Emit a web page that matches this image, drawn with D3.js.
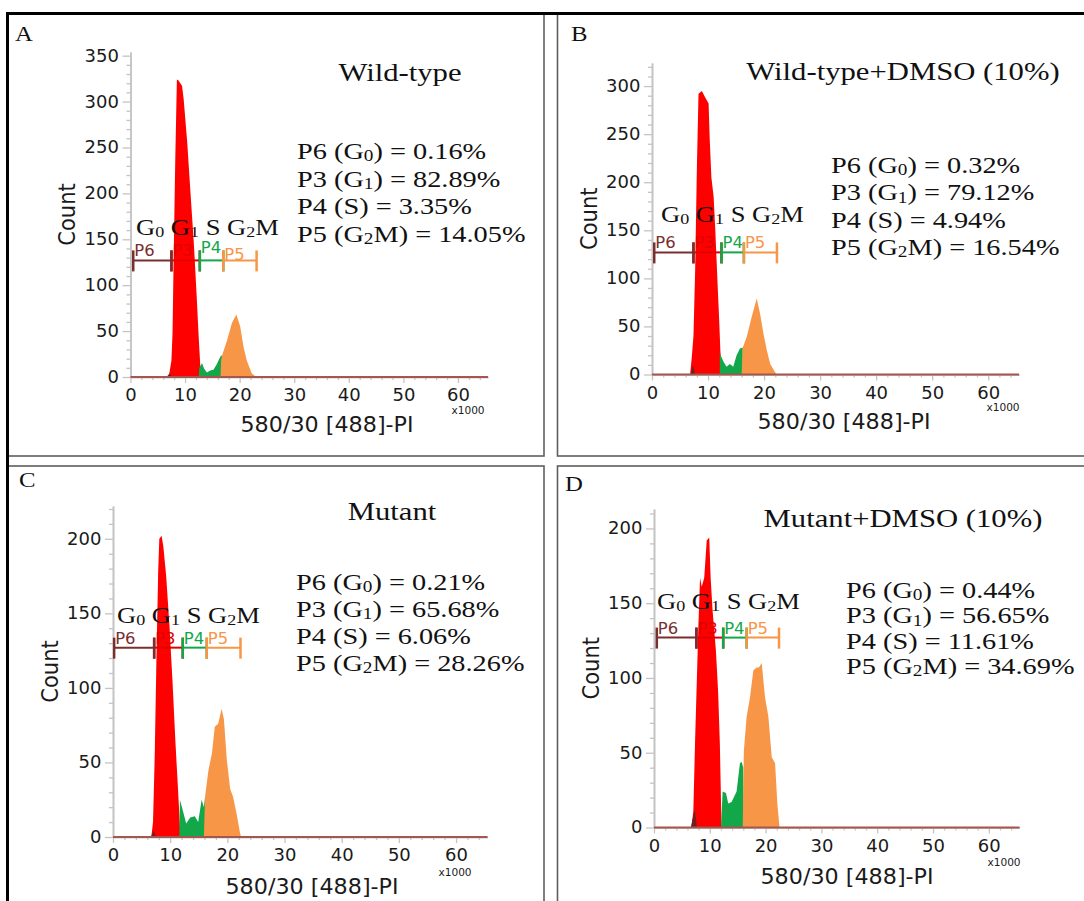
<!DOCTYPE html>
<html>
<head>
<meta charset="utf-8">
<script src="https://cdn.jsdelivr.net/npm/d3@7"></script>
<style>
  body { margin: 0; background: #fff; }
  svg { display: block; }
  text { white-space: pre; }
</style>
</head>
<body>
<script>
'use strict';

(function() {

  // ---- data ----

  // shared x axis, PI signal (x1000)
  const xMax = 65.5;
  const xTicks = [0, 10, 20, 30, 40, 50, 60];

  const panelIds = ["A", "B", "C", "D"];
  const titles = ["Wild-type", "Wild-type+DMSO (10%)", "Mutant", "Mutant+DMSO (10%)"];
  const gateNames = ["P6", "P3", "P4", "P5"];

  // percentages for P6 (G0), P3 (G1), P4 (S), P5 (G2M)
  const pctA = ["0.16", "82.89", "3.35", "14.05"];
  const pctB = ["0.32", "79.12", "4.94", "16.54"];
  const pctC = ["0.21", "65.68", "6.06", "28.26"];
  const pctD = ["0.44", "56.65", "11.61", "34.69"];

  const yTicksA = [0, 50, 100, 150, 200, 250, 300, 350];
  const yTicksB = [0, 50, 100, 150, 200, 250, 300];
  const yTicksC = [0, 50, 100, 150, 200];
  const yTicksD = [0, 50, 100, 150, 200];
  const yMaxA = 354;
  const yMaxB = 324;
  const yMaxC = 222;
  const yMaxD = 213;

  // gate bracket edges: P6 | P3 | P4 | P5 (x1000)
  const gatesA = [0.5, 7.5, 12.7, 17.0, 23.1];
  const gatesB = [0.4, 7.4, 12.4, 16.4, 22.3];
  const gatesC = [0.2, 7.2, 12.2, 16.4, 22.3];
  const gatesD = [0.5, 7.6, 12.4, 16.6, 22.4];
  const bracketCount = 127;

  // histogram outlines [x1000, count] per gated population
  const histA_G1 = [[7.0,0],[7.5,18],[7.7,48],[7.9,127],[8.2,236],[8.5,324],[8.8,323],[9.45,317],[9.75,302],[10.4,255],[11.0,200],[11.6,146],[12.1,91],[12.5,43],[12.9,0]];
  const histA_S = [[12.5,0],[12.6,10],[13.1,15],[13.5,9],[14.0,5],[14.6,7],[15.2,8],[15.8,14],[16.45,22],[16.8,24],[16.8,0]];
  const histA_G2M = [[16.5,0],[16.6,18],[16.8,24],[17.7,40],[18.6,59],[19.4,68],[20.1,55],[20.7,33],[21.3,18],[22.2,4],[23.0,0]];
  const histA_G0 = [[6.6,0],[7.2,4],[7.6,0]];

  const histB_G1 = [[6.8,0],[7.1,18],[7.4,40],[7.7,108],[8.0,212],[8.3,292],[8.9,295],[9.5,288],[10.1,282],[10.3,245],[10.6,205],[11.0,185],[11.3,150],[11.7,95],[12.0,55],[12.2,25],[12.5,0]];
  const histB_S = [[12.1,0],[12.1,22],[12.7,14],[13.3,8],[13.9,11],[14.5,8],[15.1,20],[15.7,27],[16.2,28],[16.2,0]];
  const histB_G2M = [[16.0,0],[16.2,28],[16.9,39],[17.8,60],[18.7,79],[19.3,63],[19.9,42],[20.5,25],[21.1,11],[22.0,2],[22.3,0]];
  const histB_G0 = [[6.9,0],[7.3,10],[7.7,0]];

  const histC_G1 = [[6.7,0],[7.0,10],[7.3,55],[7.6,120],[7.9,178],[8.1,200],[8.5,202],[8.8,195],[9.3,175],[9.9,140],[10.4,105],[10.9,65],[11.4,30],[11.8,0]];
  const histC_S = [[11.6,0],[11.7,25],[12.2,18],[12.8,9],[13.5,13],[14.3,14],[14.9,10],[15.5,25],[15.9,20],[16.1,27],[16.1,0]];
  const histC_G2M = [[15.9,0],[16.1,27],[16.7,45],[17.3,56],[17.8,74],[18.4,76],[19.0,86],[19.4,79],[19.9,52],[20.5,32],[21.0,27],[21.6,16],[22.2,3],[22.4,0]];
  const histC_G0 = [[6.6,0],[7.1,4],[7.5,0]];

  const histD_G1 = [[6.7,0],[7.05,11],[7.35,56],[7.95,134],[8.25,167],[8.55,161],[9.0,167],[9.45,192],[9.9,194],[10.15,167],[10.5,145],[11.1,118],[11.5,90],[11.8,56],[12.1,0]];
  const histD_S = [[12.0,0],[12.3,24],[12.9,23],[13.3,16],[13.9,17],[14.8,24],[15.4,43],[15.7,44],[16.0,40],[16.1,0]];
  const histD_G2M = [[15.9,0],[16.1,51],[16.6,74],[17.2,87],[17.8,105],[18.4,107],[18.8,107],[19.3,110],[19.9,87],[20.5,74],[21.1,47],[21.7,43],[22.1,16],[22.5,0]];
  const histD_G0 = [[6.6,0],[7.3,12],[7.7,0]];

  // ---- layout (page pixels) ----
  const layoutA = {x0: 130.5, x1: 488, y0: 377, y1: 52, letter: [15, 41], title: [400, 81],
    stats: [297, 159], statGap: 27.5, phases: [136, 235], xLabel: [327, 432], x1000: [468, 414],
    labelLift: [4, 4, 7, 0]};
  const layoutB = {x0: 652, x1: 1019, y0: 374.5, y1: 63, letter: [571, 41], title: [903, 80],
    stats: [831, 173], statGap: 27.3, phases: [661, 222], xLabel: [844, 429], x1000: [1003, 411],
    labelLift: [4, 4, 4, 4]};
  const layoutC = {x0: 113, x1: 487.5, y0: 837, y1: 506, letter: [19, 487], title: [392, 520],
    stats: [296, 590], statGap: 27, phases: [117, 623], xLabel: [312, 894], x1000: [455, 876],
    labelLift: [4, 4, 4, 4]};
  const layoutD = {x0: 654, x1: 1019.5, y0: 827.5, y1: 509, letter: [565, 491], title: [903, 527],
    stats: [846, 598], statGap: 25.3, phases: [657, 609], xLabel: [847, 884], x1000: [1004, 866],
    labelLift: [4, 4, 4, 4]};

  const serif = '"Liberation Serif", "Times New Roman", serif';
  const sans = '"DejaVu Sans", Verdana, sans-serif';
  const stretch = 1.18;
  const sansStretch = 1.06;

  const fills = ["#ff0000", "#12a84a", "#f79646", "#6b2222"];
  const gateColors = ["#7a2f2f", "#e00000", "#12a84a", "#f79646"];

  const phaseParts = [
    [{t: "G"}, {t: "0", sub: true}],
    [{t: "G"}, {t: "1", sub: true}],
    [{t: "S"}],
    [{t: "G"}, {t: "2", sub: true}, {t: "M"}]
  ];

  window.onload = function() {
    let svg = d3.select('body')
      .append('svg')
      .attr('width', 1084)
      .attr('height', 901);

    drawFrames(svg);

    let panels = [
      {pct: pctA, yTicks: yTicksA, yMax: yMaxA, gates: gatesA, hist: [histA_G1, histA_S, histA_G2M, histA_G0], layout: layoutA},
      {pct: pctB, yTicks: yTicksB, yMax: yMaxB, gates: gatesB, hist: [histB_G1, histB_S, histB_G2M, histB_G0], layout: layoutB},
      {pct: pctC, yTicks: yTicksC, yMax: yMaxC, gates: gatesC, hist: [histC_G1, histC_S, histC_G2M, histC_G0], layout: layoutC},
      {pct: pctD, yTicks: yTicksD, yMax: yMaxD, gates: gatesD, hist: [histD_G1, histD_S, histD_G2M, histD_G0], layout: layoutD}
    ];

    panels.forEach((p, i) => drawPanel(svg, p, panelIds[i], titles[i]));
  }

  // outer black edges and grey panel boxes
  function drawFrames(svg) {
    let boxes = [[8, 14, 544, 456], [557.5, 14, 1095, 456], [8, 466, 544, 915], [557.5, 466, 1095, 915]];
    svg.selectAll('.box')
      .data(boxes)
      .enter()
      .append('rect')
      .attr('x', d => d[0])
      .attr('y', d => d[1])
      .attr('width', d => d[2] - d[0])
      .attr('height', d => d[3] - d[1])
      .attr('fill', 'none')
      .attr('stroke', '#5e5e5e')
      .attr('stroke-width', 1.6);

    svg.append('line')
      .attr('x1', 6).attr('x2', 1084)
      .attr('y1', 13.5).attr('y2', 13.5)
      .attr('stroke', '#000')
      .attr('stroke-width', 3);
    svg.append('line')
      .attr('x1', 7.5).attr('x2', 7.5)
      .attr('y1', 12).attr('y2', 901)
      .attr('stroke', '#000')
      .attr('stroke-width', 3);
  }

  // text with subscripts, stretched sideways like the source figure
  function richText(svg, parts, x, y, size, family, anchor) {
    let t = svg.append('text')
      .attr('transform', 'translate(' + x + ',' + y + ') scale(' + stretch + ',1)')
      .attr('font-family', family)
      .attr('font-size', size)
      .attr('fill', '#111')
      .attr('text-anchor', anchor || 'start');
    let shift = size * 0.1;
    let down = false;
    parts.forEach(function(p) {
      let dy = 0;
      if (p.sub && !down) { dy = shift; down = true; }
      else if (!p.sub && down) { dy = -shift; down = false; }
      t.append('tspan')
        .attr('dy', dy)
        .attr('font-size', p.sub ? size * 0.68 : size)
        .text(p.t);
    });
    return t;
  }

  function drawPanel(svg, p, id, title) {
    let L = p.layout;
    let g = svg.append('g');

    let x = d3.scaleLinear().domain([0, xMax]).range([L.x0, L.x1]);
    let y = d3.scaleLinear().domain([0, p.yMax]).range([L.y0, L.y1]);

    // y axis: majors every 50, minors every 10
    let yMinor = d3.range(0, p.yMax, 10).filter(v => v % 50 !== 0);
    g.append('g')
      .attr('transform', 'translate(' + L.x0 + ',0)')
      .call(d3.axisLeft(y).tickValues(yMinor).tickSize(4).tickSizeOuter(0).tickFormat(''))
      .call(styleAxis);
    let yAxis = g.append('g')
      .attr('transform', 'translate(' + L.x0 + ',0)')
      .call(d3.axisLeft(y).tickValues(p.yTicks).tickSize(8).tickPadding(3).tickSizeOuter(0))
      .call(styleAxis);
    yAxis.selectAll('text')
      .attr('transform', 'scale(' + sansStretch + ',1)');

    // x axis: majors every 10, minors every 2
    let xMinor = d3.range(0, xMax, 2).filter(v => v % 10 !== 0);
    g.append('g')
      .attr('transform', 'translate(0,' + L.y0 + ')')
      .call(d3.axisBottom(x).tickValues(xMinor).tickSize(3).tickSizeOuter(0).tickFormat(''))
      .call(styleAxis);
    let xAxis = g.append('g')
      .attr('transform', 'translate(0,' + L.y0 + ')')
      .call(d3.axisBottom(x).tickValues(xTicks).tickSize(6).tickPadding(6).tickSizeOuter(0))
      .call(styleAxis);
    xAxis.selectAll('text')
      .attr('transform', 'scale(' + sansStretch + ',1)');

    // filled histograms per gate
    let area = d3.area()
      .x(d => x(d[0]))
      .y0(y(0))
      .y1(d => y(d[1]));
    p.hist.forEach(function(h, i) {
      g.append('path')
        .datum(h)
        .attr('d', area)
        .attr('fill', fills[i]);
    });

    // zero-count trace along the whole range
    g.append('path')
      .datum([[0, 0], [xMax, 0]])
      .attr('d', d3.line().x(d => x(d[0])).y(d => y(d[1])))
      .attr('stroke', '#a3574f')
      .attr('stroke-width', 2)
      .attr('fill', 'none');

    // gate brackets, P3 first so neighbours sit on top
    let yb = y(bracketCount);
    [1, 0, 2, 3].forEach(function(i) {
      let xa = x(p.gates[i]);
      let xb = x(p.gates[i + 1]);
      let c = gateColors[i];
      g.append('line')
        .attr('x1', xa).attr('x2', xb)
        .attr('y1', yb).attr('y2', yb)
        .attr('stroke', c).attr('stroke-width', 2);
      [xa, xb].forEach(function(xc) {
        g.append('line')
          .attr('x1', xc).attr('x2', xc)
          .attr('y1', yb - 10).attr('y2', yb + 11)
          .attr('stroke', c).attr('stroke-width', 2.5);
      });
      g.append('text')
        .attr('transform', 'translate(' + (xa + 1) + ',' + (yb - L.labelLift[i]) + ') scale(' + sansStretch + ',1)')
        .attr('font-family', sans)
        .attr('font-size', 15.5)
        .attr('fill', c)
        .text(gateNames[i]);
    });

    // phase names over the brackets
    let ph = [];
    phaseParts.forEach(function(parts, i) {
      if (i > 0) {
        ph.push({t: ' '});
      }
      ph = ph.concat(parts);
    });
    richText(g, ph, L.phases[0], L.phases[1], 22.5, serif);

    // panel letter and title
    richText(g, [{t: id}], L.letter[0], L.letter[1], 21, serif);
    richText(g, [{t: title}], L.title[0], L.title[1], 26, serif, 'middle');

    // gate percentages
    p.pct.forEach(function(v, i) {
      let parts = [{t: gateNames[i] + ' ('}].concat(phaseParts[i]).concat([{t: ') = ' + v + '%'}]);
      richText(g, parts, L.stats[0], L.stats[1] + i * L.statGap, 24, serif);
    });

    // axis titles
    g.append('text')
      .attr('transform', 'translate(' + L.xLabel[0] + ',' + L.xLabel[1] + ') scale(' + sansStretch + ',1)')
      .attr('font-family', sans)
      .attr('font-size', 21)
      .attr('fill', '#1a1a1a')
      .attr('text-anchor', 'middle')
      .text('580/30 [488]-PI');

    g.append('text')
      .attr('transform', 'translate(' + L.x1000[0] + ',' + L.x1000[1] + ') scale(' + sansStretch + ',1)')
      .attr('font-family', sans)
      .attr('font-size', 10)
      .attr('fill', '#1a1a1a')
      .attr('text-anchor', 'middle')
      .text('x1000');

    g.append('text')
      .attr('transform', 'translate(' + (L.x0 - 63) + ',' + ((L.y0 + L.y1) / 2) + ') scale(' + sansStretch + ',1) rotate(-90)')
      .attr('font-family', sans)
      .attr('font-size', 21)
      .attr('fill', '#1a1a1a')
      .attr('text-anchor', 'middle')
      .attr('dominant-baseline', 'central')
      .text('Count');
  }

  function styleAxis(sel) {
    sel.select('.domain')
      .attr('stroke', '#c4c4c4')
      .attr('stroke-width', 1.6);
    sel.selectAll('.tick line')
      .attr('stroke', '#c4c4c4')
      .attr('stroke-width', 1.3);
    sel.selectAll('.tick text')
      .attr('font-family', sans)
      .attr('font-size', 17)
      .attr('fill', '#1a1a1a');
  }
})();
</script>
</body>
</html>
